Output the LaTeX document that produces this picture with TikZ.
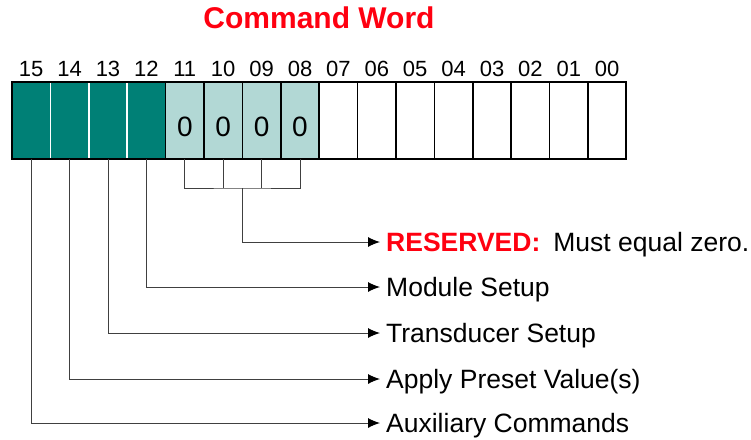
\documentclass[tikz,border=0pt]{standalone}
\usepackage{fontspec}
\setmainfont{Liberation Sans}
\usetikzlibrary{arrows.meta}
\definecolor{tealdark}{RGB}{0,128,118}
\definecolor{teallight}{RGB}{178,216,213}
\definecolor{cred}{RGB}{255,0,16}
\definecolor{wire}{RGB}{64,64,64}
\begin{document}
\begin{tikzpicture}[x=1pt,y=-1pt,
  cell/.style={minimum width=38.4pt, minimum height=77pt, inner sep=0pt, outer sep=0pt, anchor=north west, line width=1.5pt},
  bitnum/.style={font=\fontsize{22}{24}\selectfont, inner sep=0pt, text height=15.75pt, text depth=0pt},
  zero/.style={font=\fontsize{28}{30}\selectfont, inner sep=0pt, text height=20pt, text depth=0pt},
  lab/.style={anchor=west, inner xsep=6pt, inner ysep=0pt, text height=19pt, text depth=0pt, font=\fontsize{26.5}{30}\selectfont},
  conn/.style={draw=wire, line width=1pt},
  arr/.style={conn, -{Latex[length=12pt,width=10pt,color=black]}}
]
\useasboundingbox (0,0) rectangle (751,439);
\node[font=\bfseries\fontsize{30}{32}\selectfont, text=cred, inner sep=0pt, text height=21.5pt, text depth=0pt] (title) at (319,18) {Command Word};
% cells
\foreach \b [count=\i from 0] in {15,14,13,12}
  \node[cell, fill=tealdark, draw=white] (c\b) at (12+38.4*\i,82) {};
\foreach \b [count=\i from 4] in {11,10,9,8}
  \node[cell, fill=teallight, draw=black] (c\b) at (12+38.4*\i,82) {};
\foreach \b [count=\i from 8] in {7,6,5,4,3,2,1,0}
  \node[cell, fill=white, draw=black] (c\b) at (12+38.4*\i,82) {};
\draw[line width=2pt] (c15.north west) rectangle (c0.south east);
% bit numbers
\foreach \b in {15,14,...,0}
  \node[bitnum] (n\b) at ([yshift=13pt]c\b.north) {\ifnum\b<10 0\fi\b};
% zeros
\foreach \b in {11,10,9,8}
  \node[zero] (z\b) at ([yshift=-6pt]c\b.center) {0};
% labels
\node[lab] (lres) at (380,242) {{\bfseries\color{cred}RESERVED:}\hspace{13pt}Must equal zero.};
\node[lab] (lmod) at (380,287) {Module Setup};
\node[lab] (ltrans) at (380,333) {Transducer Setup};
\node[lab] (lapp) at (380,379) {Apply Preset Value(s)};
\node[lab] (laux) at (380,423) {Auxiliary Commands};
% bracket
\coordinate (bk) at (242.4,188);
\draw[conn] (c11.south) |- (bk) -| (c8.south);
\draw[conn] (c10.south) -- (c10.south |- bk);
\draw[conn] (c9.south) -- (c9.south |- bk);
\draw[arr] (bk) |- (lres.west);
% connectors
\draw[arr] (c12.south) |- (lmod.west);
\draw[arr] (c13.south) |- (ltrans.west);
\draw[arr] (c14.south) |- (lapp.west);
\draw[arr] (c15.south) |- (laux.west);
\end{tikzpicture}
\end{document}
